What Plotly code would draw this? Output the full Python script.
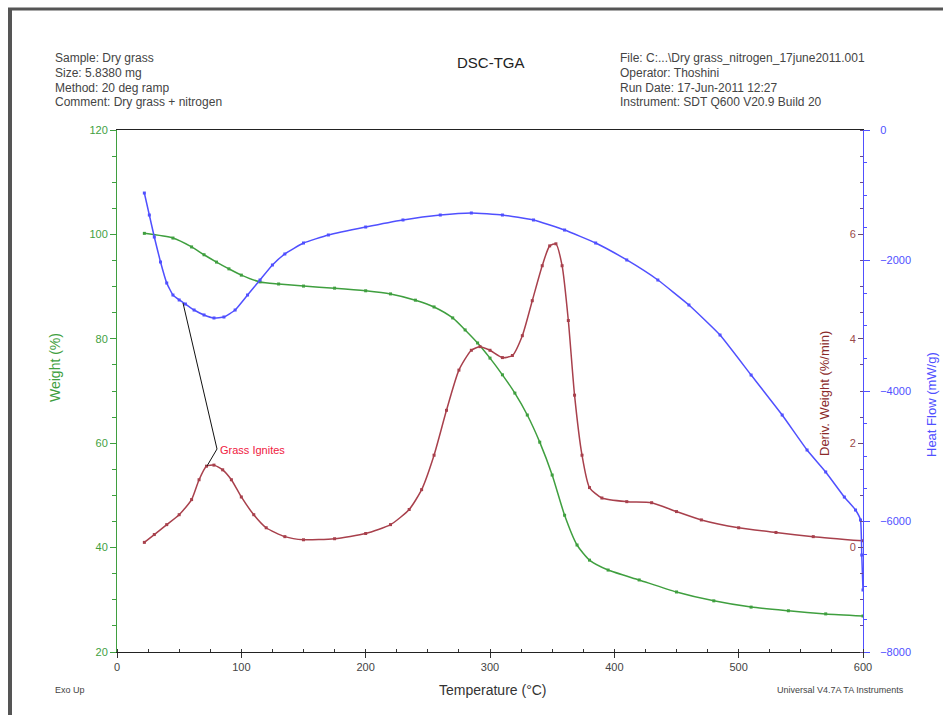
import plotly.graph_objects as go

# ---------------- data ----------------
weight_T = [22, 45, 60, 70, 80, 90, 100, 115, 130, 150, 175, 200, 220, 240, 255, 270, 280, 290,
            300, 310, 320, 330, 340, 350, 360, 370, 380, 395, 420, 450, 480, 510, 540, 570, 600]
weight_pct = [100.2, 99.3, 97.6, 96.1, 94.7, 93.4, 92.2, 90.9, 90.5, 90.1, 89.7, 89.2, 88.6, 87.4,
              86.1, 84.0, 81.7, 79.2, 76.3, 73.1, 69.6, 65.4, 60.2, 53.9, 46.2, 40.5, 37.6, 35.7,
              33.8, 31.5, 29.8, 28.6, 27.9, 27.3, 26.9]

deriv_T = [22, 30, 40, 50, 60, 66, 72, 78, 85, 92, 100, 110, 120, 135, 150, 175, 200, 220, 235,
           245, 255, 265, 275, 285, 292, 300, 310, 318, 326, 334, 342, 348, 353, 358, 363, 368,
           374, 380, 390, 410, 430, 450, 470, 500, 530, 560, 600]
deriv_wt = [0.10, 0.25, 0.44, 0.63, 0.92, 1.30, 1.56, 1.58, 1.49, 1.30, 0.97, 0.63, 0.38, 0.21,
            0.15, 0.17, 0.27, 0.44, 0.73, 1.11, 1.77, 2.63, 3.40, 3.78, 3.85, 3.78, 3.64, 3.68,
            4.06, 4.73, 5.40, 5.78, 5.82, 5.40, 4.35, 2.92, 1.77, 1.15, 0.95, 0.88, 0.86, 0.69,
            0.53, 0.38, 0.29, 0.21, 0.13]

heat_T = [22, 26, 30, 35, 40, 45, 50, 55, 62, 70, 78, 86, 95, 105, 115, 125, 135, 150, 170, 200,
          230, 260, 285, 310, 335, 360, 385, 410, 435, 460, 485, 510, 535, 555, 570, 585, 594,
          598, 599, 600]
heat_flow = [-966, -1303, -1640, -2023, -2345, -2529, -2605, -2667, -2759, -2835, -2881, -2866,
             -2759, -2529, -2299, -2069, -1900, -1732, -1609, -1487, -1379, -1303, -1272, -1303,
             -1379, -1533, -1732, -1992, -2299, -2682, -3142, -3755, -4368, -4904, -5241, -5625,
             -5824, -5977, -6514, -7050]

x_ticks = [0, 100, 200, 300, 400, 500, 600]
weight_ticks = [20, 40, 60, 80, 100, 120]
deriv_ticks = [0, 2, 4, 6]
heat_ticks = [0, -2000, -4000, -6000, -8000]

header_left = ["Sample: Dry grass", "Size: 5.8380 mg", "Method: 20 deg ramp",
               "Comment: Dry grass + nitrogen"]
header_right = ["File: C:...\\Dry grass_nitrogen_17june2011.001", "Operator: Thoshini",
                "Run Date: 17-Jun-2011 12:27", "Instrument: SDT Q600 V20.9 Build 20"]

# ---------------- layout helpers ----------------
W, H = 943, 715
L, R, T, B = 117, 863, 130, 652


def px(x):
    return (x - L) / (R - L)


def py(y):
    return (B - y) / (B - T)


GREEN = "#3f9f3f"
RED = "#a8404c"
BLUE = "#5050ff"
FONT = "Liberation Sans"

fig = go.Figure()
fig.add_trace(go.Scatter(x=weight_T, y=weight_pct, mode="lines+markers", yaxis="y",
                         line=dict(color=GREEN, width=1.5, shape="spline", smoothing=0.6),
                         marker=dict(symbol="square", size=3, color=GREEN), showlegend=False))
fig.add_trace(go.Scatter(x=deriv_T, y=deriv_wt, mode="lines+markers", yaxis="y2",
                         line=dict(color=RED, width=1.5, shape="spline", smoothing=0.6),
                         marker=dict(symbol="square", size=3, color=RED), showlegend=False))
fig.add_trace(go.Scatter(x=heat_T, y=heat_flow, mode="lines+markers", yaxis="y3",
                         line=dict(color=BLUE, width=1.5, shape="spline", smoothing=0.4),
                         marker=dict(symbol="square", size=3, color=BLUE), showlegend=False))


def ann(text, x, y, size, color, xanchor="center", angle=0):
    return dict(text=text, x=px(x), y=py(y), xref="paper", yref="paper", xanchor=xanchor,
                yanchor="middle", textangle=angle, showarrow=False,
                font=dict(size=size, color=color))


annotations = []
rows = [58, 73, 88, 102]
for txt, yy in zip(header_left, rows):
    annotations.append(ann(txt, 53, yy, 12, "#444", "left"))
for txt, yy in zip(header_right, rows):
    annotations.append(ann(txt, 618, yy, 12, "#444", "left"))
annotations += [
    ann("DSC-TGA", 491, 62, 15, "#222"),
    ann("Exo Up", 53, 690, 9, "#444", "left"),
    ann("Temperature (°C)", 493, 690, 14, "#333"),
    ann("Universal V4.7A TA Instruments", 775, 690, 9, "#444", "left"),
    ann("Weight (%)", 55, 368, 14, GREEN, angle=-90),
    ann("Deriv. Weight (%/min)", 824, 394, 13, "#8b2a2a", angle=-90),
    ann("Heat Flow (mW/g)", 931, 405, 13, BLUE, angle=-90),
    ann("Grass Ignites", 218, 450, 11, "#f02040", "left"),
]

shapes = [
    dict(type="line", xref="paper", yref="paper", x0=px(10), x1=px(10), y0=py(8), y1=py(W),
         line=dict(color="#555", width=4)),
    dict(type="line", xref="paper", yref="paper", x0=px(8), x1=px(W + 5), y0=py(9), y1=py(9),
         line=dict(color="#555", width=3)),
    dict(type="path", xref="paper", yref="paper",
         path=f"M {px(183)} {py(303)} L {px(217)} {py(449)} L {px(207)} {py(466)}",
         line=dict(color="#111", width=1)),
]

fig.update_layout(
    width=W, height=H,
    margin=dict(l=L, r=W - R, t=T, b=H - B),
    paper_bgcolor="white", plot_bgcolor="white",
    font=dict(family=FONT, size=11, color="#333"),
    showlegend=False,
    xaxis=dict(range=[0, 600], tickvals=x_ticks, ticks="outside", ticklen=5, tickcolor="#333",
               showline=True, linecolor="#222", linewidth=1, mirror=True, showgrid=False,
               zeroline=False, tickfont=dict(size=11, color="#444"),
               minor=dict(dtick=25, ticks="inside", ticklen=3, tickcolor="#333")),
    yaxis=dict(range=[20, 120], tickvals=weight_ticks, ticks="outside", ticklen=6,
               tickcolor=GREEN, showline=True, linecolor=GREEN, linewidth=1, showgrid=False,
               zeroline=False, tickfont=dict(size=11, color=GREEN),
               minor=dict(dtick=5, tick0=20, ticks="outside", ticklen=4, tickcolor=GREEN)),
    yaxis2=dict(range=[-2, 8], tickvals=deriv_ticks, overlaying="y", anchor="free", position=1,
                side="left", ticks="outside", ticklen=5, tickcolor="#6a4a6a", showline=False,
                showgrid=False, zeroline=False, tickfont=dict(size=11, color="#9a4a4a"),
                minor=dict(dtick=0.5, tick0=0, ticks="outside", ticklen=3, tickcolor="#6a4a8a")),
    yaxis3=dict(range=[-8000, 0], tickvals=heat_ticks, overlaying="y", anchor="x", side="right",
                ticks="outside", ticklen=6, tickcolor=BLUE, showline=True, linecolor=BLUE,
                linewidth=1, showgrid=False, zeroline=False, ticklabelstandoff=8,
                tickfont=dict(size=11, color=BLUE),
                minor=dict(dtick=500, tick0=0, ticks="outside", ticklen=3, tickcolor=BLUE)),
    annotations=annotations,
    shapes=shapes,
)

fig.write_html("out.html")
